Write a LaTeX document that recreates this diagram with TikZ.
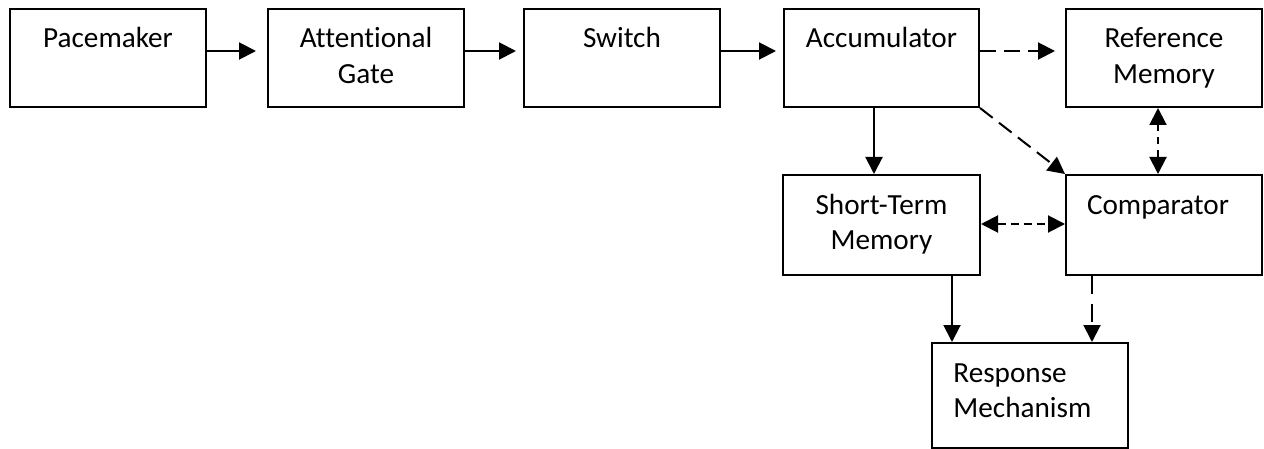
\documentclass[tikz,border=0pt]{standalone}
\usepackage{fontspec}
\setmainfont{Carlito}[Ligatures={NoCommon}]
\usetikzlibrary{arrows.meta}
\begin{document}
\begin{tikzpicture}[x=0.5pt,y=-0.5pt,
  box/.style={draw,line width=1pt,inner sep=0pt,minimum width=98pt,minimum height=49pt},
  lbl/.style={inner sep=0pt,text width=92pt,align=center,anchor=base,font=\fontsize{14.6}{17.8}\selectfont},
  arr/.style={line width=1pt,-{Triangle[length=8.5pt,width=8.5pt]}},
  darr/.style={line width=1pt,{Triangle[length=8.5pt,width=8.5pt]}-{Triangle[length=8.5pt,width=8.5pt]}},
  longdash/.style={dash pattern=on 8pt off 4pt},
  shortdash/.style={dash pattern=on 3.5pt off 3pt}]
\useasboundingbox (0,0) rectangle (1264,449);
% boxes
\node[box] (pm) at (108,58) {};
\node[box] (gate) at (366,58) {};
\node[box] (sw) at (622,58) {};
\node[box,minimum width=97.5pt] (acc) at (881.5,58) {};
\node[box] (ref) at (1164,58) {};
\node[box,minimum height=50pt,minimum width=98.5pt] (stm) at (881.5,225) {};
\node[box,minimum height=50pt] (cmp) at (1164,225) {};
\node[box,minimum height=52.5pt] (resp) at (1030,395.5) {};
% labels
\node[lbl] (pmt) at (108,47.5) {Pacemaker};
\node[lbl] (gatet) at (366,47.5) {Attentional\\Gate};
\node[lbl] (swt) at (622,47.5) {Switch};
\node[lbl] (acct) at (881.5,47.5) {Accumulator};
\node[lbl] (reft) at (1164,47.5) {Reference\\Memory};
\node[lbl] (stmt) at (881.5,214) {Short-Term\\Memory};
\node[lbl] (cmpt) at (1158,214) {Comparator};
\node[lbl,align=left,anchor=base west] (respt) at (953,382) {Response\\Mechanism};
% connectors
\draw[arr,shorten >=5.5pt] (pm.east |- 0,51) -- (gate.west |- 0,51);
\draw[arr,shorten >=3.5pt] (gate.east |- 0,51) -- (sw.west |- 0,51);
\draw[arr,shorten >=3.5pt] (sw.east |- 0,51) -- (acc.west |- 0,51);
\draw[arr,longdash,shorten >=5pt] (acc.east |- 0,51) -- (ref.west |- 0,51);
\draw[arr] (acc.south -| 874,0) -- (stm.north -| 874,0);
\draw[arr,longdash] (acc.south east) -- (cmp.north west);
\draw[darr,shortdash] (ref.south -| 1158,0) -- (cmp.north -| 1158,0);
\draw[darr,dash pattern=on 4pt off 2.5pt] (stm.east |- 0,224) -- (cmp.west |- 0,224);
\draw[arr] (stm.south -| 952,0) -- (resp.north -| 952,0);
\draw[arr,dash pattern=on 9pt off 5pt] (cmp.south -| 1092,0) -- (resp.north -| 1092,0);
\end{tikzpicture}
\end{document}
